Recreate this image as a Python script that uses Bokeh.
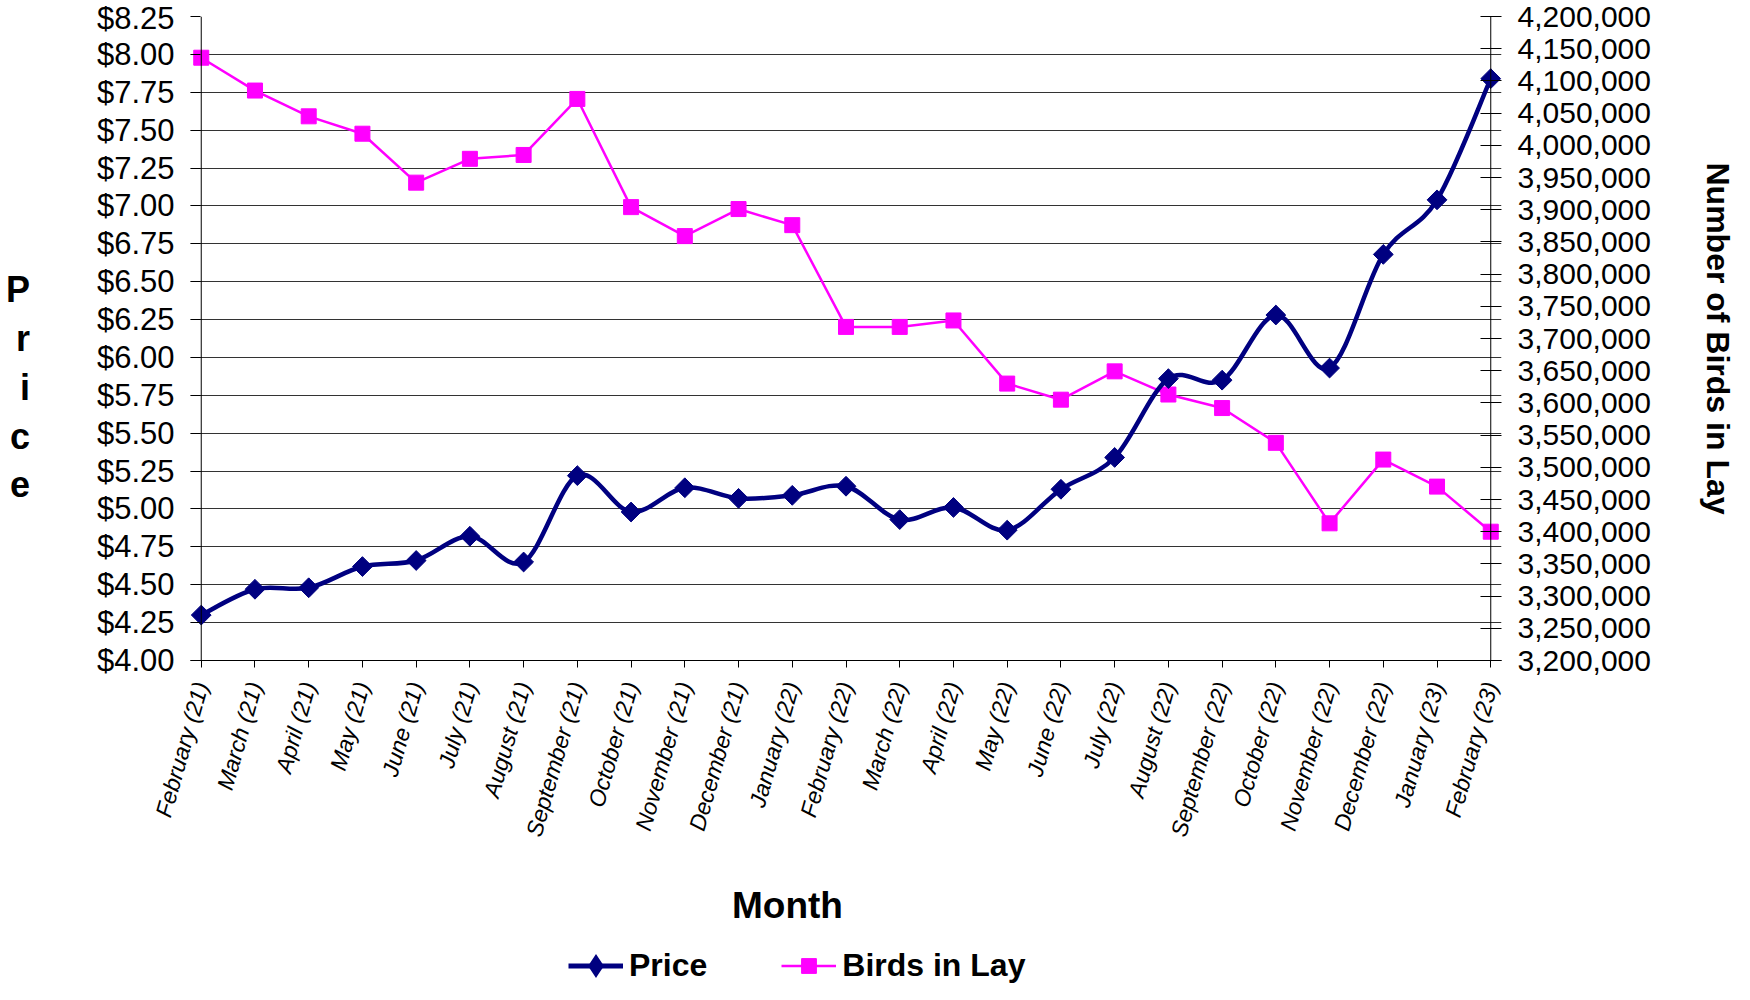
import numpy as np
from bokeh.plotting import figure
from bokeh.layouts import column
from bokeh.models import (Range1d, LinearAxis, FixedTicker, NumeralTickFormatter,
                          Span, Label, Legend, LegendItem)
from bokeh.embed import file_html
from bokeh.resources import INLINE

# ---------------- data ----------------
months = ["February (21)", "March (21)", "April (21)", "May (21)", "June (21)",
          "July (21)", "August (21)", "September (21)", "October (21)",
          "November (21)", "December (21)", "January (22)", "February (22)",
          "March (22)", "April (22)", "May (22)", "June (22)", "July (22)",
          "August (22)", "September (22)", "October (22)", "November (22)",
          "December (22)", "January (23)", "February (23)"]
price = [4.30, 4.47, 4.48, 4.62, 4.66, 4.82, 4.65, 5.22, 4.98, 5.14, 5.07, 5.09,
         5.15, 4.93, 5.01, 4.86, 5.13, 5.34, 5.86, 5.85, 6.28, 5.93, 6.68, 7.04, 7.84]
birds = [4136000, 4085000, 4045000, 4018000, 3942000, 3979000, 3985000, 4072000,
         3904000, 3859000, 3901000, 3876000, 3718000, 3718000, 3728000, 3630000,
         3605000, 3649000, 3613000, 3592000, 3538000, 3413000, 3512000, 3470000,
         3400000]
price_ticks = [4.00, 4.25, 4.50, 4.75, 5.00, 5.25, 5.50, 5.75, 6.00, 6.25, 6.50,
               6.75, 7.00, 7.25, 7.50, 7.75, 8.00, 8.25]
birds_ticks = list(range(3200000, 4200001, 50000))

NAVY = "#000080"
MAGENTA = "#FF00FF"
FONT = "Liberation Sans"

x = np.arange(len(months), dtype=float)
y = np.array(price, dtype=float)
n = len(x)

# smoothed (Catmull-Rom style) bezier segments derived from the price points
i0 = np.arange(n - 1)
i1 = i0 + 1
prev_i = np.maximum(i0 - 1, 0)
next2_i = np.minimum(i0 + 2, n - 1)
cx0 = x[i0] + (x[i1] - x[prev_i]) / 6.0
cy0 = y[i0] + (y[i1] - y[prev_i]) / 6.0
cx1 = x[i1] - (x[next2_i] - x[i0]) / 6.0
cy1 = y[i1] - (y[next2_i] - y[i0]) / 6.0

X_RANGE = (-0.2, len(months) - 1 + 0.2)

p = figure(frame_width=1311, frame_height=644,
           x_range=Range1d(*X_RANGE),
           y_range=Range1d(price_ticks[0], price_ticks[-1]),
           output_backend="svg", toolbar_location=None,
           min_border_left=190, min_border_right=233,
           min_border_top=16, min_border_bottom=190)
p.extra_y_ranges = {"birds": Range1d(birds_ticks[0], birds_ticks[-1])}
p.outline_line_color = None
p.background_fill_color = "white"
p.border_fill_color = "white"

# ---------- axes ----------
xa = p.xaxis[0]
xa.ticker = FixedTicker(ticks=list(range(len(months))))
xa.major_label_overrides = {i: m for i, m in enumerate(months)}
xa.major_label_orientation = np.deg2rad(74)
xa.major_label_text_font = FONT
xa.major_label_text_font_size = "23px"
xa.major_label_text_font_style = "italic"
xa.major_label_text_color = "black"
xa.major_label_standoff = 15
xa.major_tick_in = 0
xa.major_tick_out = 7
xa.minor_tick_line_color = None
xa.axis_line_color = "black"
xa.major_tick_line_color = "black"

ya = p.yaxis[0]
ya.ticker = FixedTicker(ticks=price_ticks)
ya.formatter = NumeralTickFormatter(format="$0.00")
ya.major_label_text_font = FONT
ya.major_label_text_font_size = "31px"
ya.major_label_text_color = "black"
ya.major_label_standoff = 16
ya.major_tick_in = 10
ya.major_tick_out = 0
ya.minor_tick_line_color = None
ya.axis_line_color = None
ya.major_tick_line_color = "black"
ya.axis_label = "\n\nP\nr\ni\nc\ne"
ya.axis_label_orientation = "horizontal"
ya.axis_label_text_font = FONT
ya.axis_label_text_font_size = "36px"
ya.axis_label_text_font_style = "bold"
ya.axis_label_text_color = "black"
ya.axis_label_text_line_height = 1.19
ya.axis_label_standoff = 64

ra = LinearAxis(y_range_name="birds", ticker=FixedTicker(ticks=birds_ticks),
                formatter=NumeralTickFormatter(format="0,0"))
ra.major_label_text_font = FONT
ra.major_label_text_font_size = "30px"
ra.major_label_text_color = "black"
ra.major_label_standoff = 16
ra.major_tick_in = 21
ra.major_tick_out = 0
ra.minor_tick_line_color = None
ra.axis_line_color = None
ra.major_tick_line_color = "black"
ra.axis_label = "Number of Birds in Lay"
ra.axis_label_text_font = FONT
ra.axis_label_text_font_size = "32px"
ra.axis_label_text_font_style = "bold"
ra.axis_label_text_color = "black"
ra.axis_label_standoff = 46
p.add_layout(ra, "right")

p.xgrid.visible = False
p.ygrid.grid_line_color = "#333333"
p.ygrid.grid_line_width = 1

# axis lines at the first / last month
p.add_layout(Span(location=0, dimension="height", line_color="black", line_width=1))
p.add_layout(Span(location=len(months) - 1, dimension="height", line_color="black", line_width=1))

# ---------- series ----------
PRICE_MARK = dict(marker="square", size=14, angle=np.pi / 4, fill_color=NAVY, line_color=NAVY)
BIRDS_LINE = dict(line_color=MAGENTA, line_width=2.5)
BIRDS_MARK = dict(marker="square", size=15, fill_color=MAGENTA, line_color=MAGENTA)

p.line(x, birds, y_range_name="birds", **BIRDS_LINE)
p.scatter(x, birds, y_range_name="birds", **BIRDS_MARK)
p.bezier(x0=x[i0], y0=y[i0], x1=x[i1], y1=y[i1], cx0=cx0, cy0=cy0, cx1=cx1, cy1=cy1,
         line_color=NAVY, line_width=4.5)
p.scatter(x, y, **PRICE_MARK)

# ---------- x-axis title + legend strip (same series, drawn outside its visible range) ----------
lf = figure(width=1734, height=134, x_range=Range1d(*X_RANGE), y_range=Range1d(0, 1),
            output_backend="svg", toolbar_location=None, min_border=0)
lf.outline_line_color = None
lf.axis.visible = False
lf.grid.visible = False
lp_line = lf.line(x, y, line_color=NAVY, line_width=5)
lp_mark = lf.scatter(x, y, marker="diamond", fill_color=NAVY, line_color=NAVY,
                     line_width=5, line_join="miter")
lb_line = lf.line(x, birds, **BIRDS_LINE)
lb_mark = lf.scatter(x, birds, **BIRDS_MARK)

lf.add_layout(Label(x=597, y=79, x_units="screen", y_units="screen", text="Month",
                    text_font=FONT, text_font_size="37px", text_font_style="bold",
                    text_color="black", text_align="center", text_baseline="middle"))

legend = Legend(items=[LegendItem(label="Price", renderers=[lp_line, lp_mark]),
                       LegendItem(label="Birds in Lay", renderers=[lb_line, lb_mark])],
                orientation="horizontal", location=(378, 0),
                label_text_font=FONT, label_text_font_size="32px",
                label_text_font_style="bold", label_text_color="black",
                glyph_width=55, glyph_height=37, label_height=37,
                label_standoff=6, spacing=74,
                padding=0, margin=0, border_line_color=None,
                background_fill_alpha=0)
lf.add_layout(legend, "center")

open("out.html", "w").write(file_html(column(p, lf), INLINE))
